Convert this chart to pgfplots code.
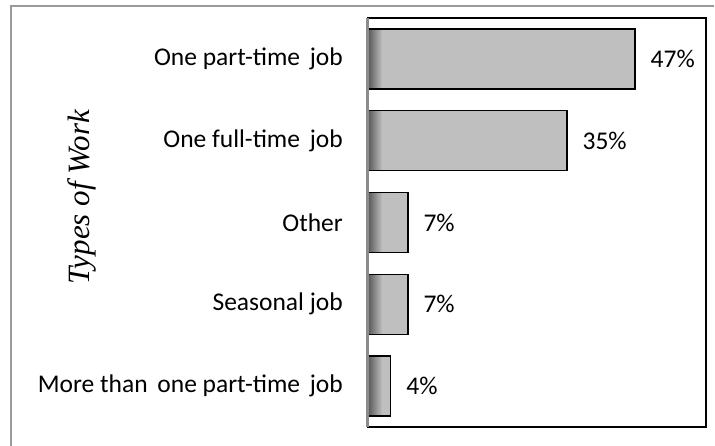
\documentclass[border=0pt]{standalone}
\usepackage{fontspec}
\setmainfont{Carlito}
\newfontfamily\serifit{Liberation Serif Italic}
\usepackage{pgfplots}
\pgfplotsset{compat=1.18}
\definecolor{barLight}{HTML}{BFBFBF}
\definecolor{barDark}{HTML}{585858}
\definecolor{frameGray}{HTML}{8C8C8C}
\definecolor{outerGray}{HTML}{9A9A9A}
\begin{document}
\begin{tikzpicture}
\useasboundingbox (0pt,0pt) rectangle (715pt,446pt);
\draw[outerGray, line width=2pt] (11pt,0pt) -- (11pt,440pt) -- (714pt,440pt);
\begin{axis}[
  at={(368pt,19pt)}, anchor=south west,
  scale only axis, width=338pt, height=409pt,
  xmin=0, xmax=59.5, ymin=-0.5, ymax=4.5,
  y dir=reverse,
  ytick={0,...,4},
  yticklabels={One part-time\hspace{4pt} job, One full-time\hspace{4pt} job, Other, Seasonal job, More than\hspace{4pt} one part-time\hspace{4pt} job},
  xtick=\empty,
  major tick length=0pt,
  yticklabel style={font=\fontsize{25.5}{30}\selectfont, inner sep=0pt, xshift=-25pt, anchor=east},
  axis line style={draw=none},
  ylabel={\serifit Types of Work},
  every axis y label/.style={at={(axis description cs:-0.845,0.562)}, rotate=90, anchor=center, font=\fontsize{31}{36}\selectfont},
  clip=false,
]
\addplot[xbar, bar shift=0pt, bar width=60pt, fill=barLight, draw=none] coordinates {(47,0) (35,1) (7,2) (7,3) (4,4)};
\addplot[xbar, bar shift=0pt, bar width=60pt, draw=none, left color=barDark, right color=barLight] coordinates {(2.5,0) (2.5,1) (2.5,2) (2.5,3) (2.5,4)};
\addplot[xbar, bar shift=0pt, bar width=60pt, fill=none, draw=black, line width=1.5pt,
  nodes near coords={\pgfmathprintnumber[assume math mode=true]{\pgfplotspointmeta}\%},
  point meta=x,
  every node near coord/.append style={font=\fontsize{25.5}{30}\selectfont, anchor=west, inner sep=0pt, xshift=15pt, text=black}]
  coordinates {(47,0) (35,1) (7,2) (7,3) (4,4)};
\draw[black, line width=2pt] (rel axis cs:0,0) rectangle (rel axis cs:1,1);
\draw[frameGray, line width=3pt] (rel axis cs:0,0) -- (rel axis cs:0,1);
\end{axis}
\end{tikzpicture}
\end{document}
